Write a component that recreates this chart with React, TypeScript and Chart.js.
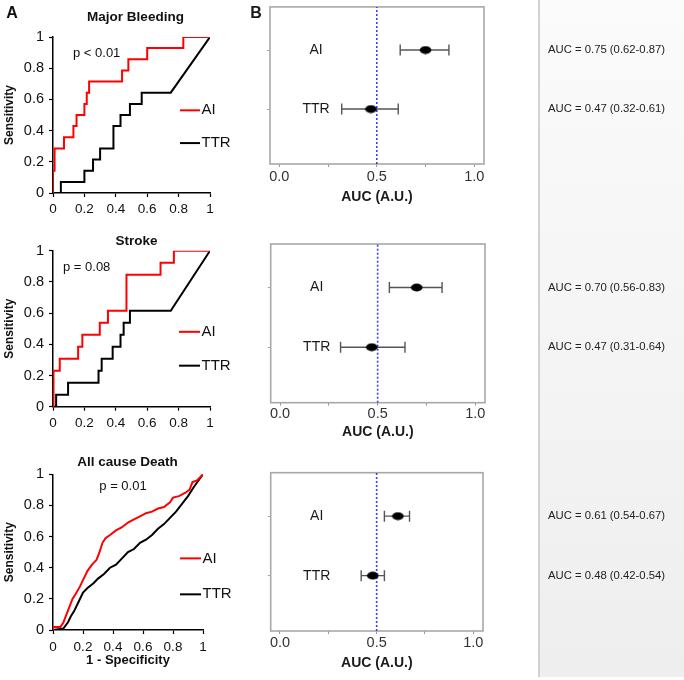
import React, { useEffect, useRef } from 'react';
import { Chart, registerables } from 'chart.js';
Chart.register(...registerables);

const FONT = "'Liberation Sans', Arial, Helvetica, sans-serif";

// ---------- ROC curve data (1 - specificity, sensitivity) ----------
const bleedAiX = [0, 0, 0.01, 0.01, 0.07, 0.07, 0.13, 0.13, 0.15, 0.15, 0.2, 0.2, 0.215, 0.215, 0.23, 0.23, 0.44, 0.44, 0.48, 0.48, 0.6, 0.6, 0.83, 0.83, 1];
const bleedAiY = [0, 0.143, 0.143, 0.286, 0.286, 0.357, 0.357, 0.429, 0.429, 0.5, 0.5, 0.571, 0.571, 0.643, 0.643, 0.714, 0.714, 0.786, 0.786, 0.857, 0.857, 0.929, 0.929, 1, 1];
const bleedTtrX = [0, 0.05, 0.05, 0.2, 0.2, 0.255, 0.255, 0.3, 0.3, 0.385, 0.385, 0.43, 0.43, 0.49, 0.49, 0.565, 0.565, 0.75, 1];
const bleedTtrY = [0, 0, 0.071, 0.071, 0.143, 0.143, 0.214, 0.214, 0.286, 0.286, 0.429, 0.429, 0.5, 0.5, 0.571, 0.571, 0.643, 0.643, 1];

const strokeAiX = [0, 0, 0.005, 0.005, 0.043, 0.043, 0.16, 0.16, 0.187, 0.187, 0.298, 0.298, 0.35, 0.35, 0.468, 0.468, 0.685, 0.685, 0.77, 0.77, 1];
const strokeAiY = [0, 0.154, 0.154, 0.231, 0.231, 0.308, 0.308, 0.385, 0.385, 0.462, 0.462, 0.538, 0.538, 0.615, 0.615, 0.846, 0.846, 0.923, 0.923, 1, 1];
const strokeTtrX = [0, 0.02, 0.02, 0.096, 0.096, 0.29, 0.29, 0.31, 0.31, 0.38, 0.38, 0.43, 0.43, 0.45, 0.45, 0.49, 0.49, 0.75, 1];
const strokeTtrY = [0, 0, 0.077, 0.077, 0.154, 0.154, 0.231, 0.231, 0.308, 0.308, 0.385, 0.385, 0.462, 0.462, 0.538, 0.538, 0.615, 0.615, 1];

const deathAiX = [0, 0, 0.05, 0.07, 0.09, 0.11, 0.13, 0.15, 0.18, 0.2, 0.23, 0.26, 0.29, 0.31, 0.33, 0.35, 0.38, 0.42, 0.46, 0.5, 0.54, 0.58, 0.62, 0.66, 0.7, 0.74, 0.78, 0.8, 0.84, 0.88, 0.91, 0.93, 0.96, 1];
const deathAiY = [0, 0.02, 0.02, 0.05, 0.1, 0.15, 0.2, 0.23, 0.28, 0.32, 0.38, 0.42, 0.45, 0.5, 0.56, 0.59, 0.61, 0.64, 0.66, 0.69, 0.71, 0.73, 0.75, 0.76, 0.78, 0.79, 0.82, 0.85, 0.86, 0.88, 0.9, 0.95, 0.96, 1];
const deathTtrX = [0, 0.07, 0.1, 0.12, 0.14, 0.17, 0.2, 0.23, 0.27, 0.3, 0.34, 0.38, 0.42, 0.46, 0.5, 0.54, 0.58, 0.62, 0.66, 0.7, 0.74, 0.78, 0.82, 0.86, 0.9, 0.94, 0.97, 1];
const deathTtrY = [0, 0.01, 0.05, 0.09, 0.12, 0.18, 0.24, 0.27, 0.3, 0.33, 0.36, 0.4, 0.42, 0.46, 0.5, 0.52, 0.56, 0.58, 0.61, 0.65, 0.68, 0.72, 0.76, 0.81, 0.86, 0.92, 0.96, 1];

const rocTitles = ['Major Bleeding', 'Stroke', 'All cause Death'];
const pValues = ['p < 0.01', 'p = 0.08', 'p = 0.01'];
const seriesNames = ['AI', 'TTR'];
const rocTicks = [0, 0.2, 0.4, 0.6, 0.8, 1];

// ---------- AUC forest data ----------
const rowValues = [2, 1];
const bleedAuc = [0.75, 0.47];
const bleedLo = [0.62, 0.32];
const bleedHi = [0.87, 0.61];
const strokeAuc = [0.7, 0.47];
const strokeLo = [0.56, 0.31];
const strokeHi = [0.83, 0.64];
const deathAuc = [0.61, 0.48];
const deathLo = [0.54, 0.42];
const deathHi = [0.67, 0.54];
const aucTicks = [0, 0.25, 0.5, 0.75, 1];
const aucTickLabels = ['0.0', '', '0.5', '', '1.0'];
const refLine = 0.5;

const pts = (xs: number[], ys: number[]) => xs.map((x, i) => ({ x, y: ys[i] }));

function rocConfig(s: any) {
  const annot = {
    id: 'rocAnnot',
    afterDraw(chart: any) {
      const { ctx, scales } = chart;
      ctx.save();
      ctx.fillStyle = '#111';
      ctx.textBaseline = 'middle';
      if (s.letter) {
        ctx.font = `bold 16px ${FONT}`;
        ctx.textAlign = 'center';
        ctx.fillText(s.letter, 12, 14);
      }
      ctx.font = `bold 13.5px ${FONT}`;
      ctx.textAlign = 'center';
      ctx.fillText(s.title, s.titleX, s.titleY);
      ctx.font = `13px ${FONT}`;
      ctx.textAlign = 'left';
      ctx.fillText(s.pText, s.pX, s.pY);
      const colors = ['#ff0000', '#000000'];
      seriesNames.forEach((name, i) => {
        const y = scales.y.getPixelForValue(s.legendY[i]);
        ctx.strokeStyle = colors[i];
        ctx.lineWidth = 2;
        ctx.beginPath();
        ctx.moveTo(s.legX0, y);
        ctx.lineTo(s.legX1, y);
        ctx.stroke();
        ctx.font = `15px ${FONT}`;
        ctx.fillStyle = '#111';
        ctx.fillText(name, s.legX1 + 1.5, y);
      });
      ctx.restore();
    },
  };
  return {
    type: 'scatter',
    data: {
      datasets: [
        { label: 'AI', data: pts(s.aiX, s.aiY), showLine: true, borderColor: '#ff0000', borderWidth: 2, pointRadius: 0, tension: 0 },
        { label: 'TTR', data: pts(s.ttrX, s.ttrY), showLine: true, borderColor: '#000000', borderWidth: 2, pointRadius: 0, tension: 0 },
      ],
    },
    options: {
      responsive: false,
      animation: false,
      events: [],
      layout: { padding: s.pad },
      plugins: { legend: { display: false }, tooltip: { enabled: false }, title: { display: false } },
      scales: {
        x: {
          type: 'linear', min: 0, max: 1,
          afterBuildTicks: (sc: any) => { sc.ticks = rocTicks.map((v) => ({ value: v })); },
          afterFit: (sc: any) => { sc.height = s.xH; },
          ticks: { font: { family: FONT, size: 13.5 }, color: '#111', padding: s.xTickPad, maxRotation: 0, autoSkip: false, callback: (v: number) => String(v) },
          grid: { display: true, drawOnChartArea: false, drawTicks: true, tickLength: 4, tickColor: '#000', tickWidth: 1.2 },
          border: { display: true, color: '#000', width: 1.5 },
          title: s.xTitle
            ? { display: true, text: s.xTitle, color: '#111', font: { family: FONT, size: 13, weight: 'bold' }, padding: { top: 0, bottom: s.xTitlePad } }
            : { display: false },
        },
        y: {
          type: 'linear', min: 0, max: 1,
          afterBuildTicks: (sc: any) => { sc.ticks = rocTicks.map((v) => ({ value: v })); },
          afterFit: (sc: any) => { sc.width = 53; },
          ticks: { font: { family: FONT, size: 14.5 }, color: '#111', padding: 5, autoSkip: false, callback: (v: number) => String(v) },
          grid: { display: true, drawOnChartArea: false, drawTicks: true, tickLength: 4, tickColor: '#000', tickWidth: 1.2 },
          border: { display: true, color: '#000', width: 1.5 },
          title: { display: true, text: 'Sensitivity', color: '#111', font: { family: FONT, size: 12, weight: 'bold' }, padding: { top: 2, bottom: 0 } },
        },
      },
    },
    plugins: [annot],
  };
}

function makeEllipse() {
  const c = document.createElement('canvas');
  c.width = 13;
  c.height = 9;
  const g = c.getContext('2d')!;
  g.fillStyle = '#000';
  g.beginPath();
  g.ellipse(6.5, 4.5, 5.8, 3.9, 0, 0, Math.PI * 2);
  g.fill();
  return c;
}

const Y_MIN = 0.07;
const Y_MAX = 2.73;

function forestConfig(s: any) {
  const ellipse = makeEllipse();
  const annot = {
    id: 'forestAnnot',
    beforeDatasetsDraw(chart: any) {
      const { ctx, chartArea: ca } = chart;
      ctx.save();
      ctx.strokeStyle = '#a8a8a8';
      ctx.lineWidth = 1.6;
      ctx.strokeRect(ca.left, ca.top, ca.right - ca.left, ca.bottom - ca.top);
      ctx.restore();
    },
    afterDraw(chart: any) {
      const { ctx, chartArea: ca, scales } = chart;
      ctx.save();
      ctx.fillStyle = '#1a1a1a';
      ctx.textBaseline = 'middle';
      if (s.letter) {
        ctx.font = `bold 16px ${FONT}`;
        ctx.textAlign = 'center';
        ctx.fillText(s.letter, 26, 14);
      }
      seriesNames.forEach((name, i) => {
        const y = scales.y.getPixelForValue(rowValues[i]);
        ctx.font = `14px ${FONT}`;
        ctx.textAlign = 'center';
        ctx.fillStyle = '#1a1a1a';
        ctx.fillText(name, ca.left + 46, y);
        ctx.font = `11.3px ${FONT}`;
        ctx.textAlign = 'left';
        ctx.fillStyle = '#222';
        const txt = `AUC = ${s.auc[i].toFixed(2)} (${s.lo[i].toFixed(2)}-${s.hi[i].toFixed(2)})`;
        ctx.fillText(txt, 318, y);
      });
      ctx.restore();
    },
  };
  const bars = rowValues.map((r, i) => ({
    label: seriesNames[i] + ' CI',
    data: [{ x: s.lo[i], y: r }, { x: s.hi[i], y: r }],
    showLine: true,
    borderColor: '#555',
    borderWidth: 1.4,
    pointStyle: 'line',
    pointRotation: 90,
    pointRadius: 5.5,
    pointBorderColor: '#555',
    pointBorderWidth: 1.4,
  }));
  return {
    type: 'scatter',
    data: {
      datasets: [
        { label: 'AUC', data: s.auc.map((v: number, i: number) => ({ x: v, y: rowValues[i] })), pointStyle: ellipse, pointRadius: 5 },
        ...bars,
        {
          label: 'ref', data: [{ x: refLine, y: Y_MIN }, { x: refLine, y: Y_MAX }], showLine: true,
          borderColor: '#3c3cff', borderWidth: 1.6, borderDash: [2, 2], pointRadius: 0,
        },
      ],
    },
    options: {
      responsive: false,
      animation: false,
      events: [],
      layout: { padding: s.pad },
      plugins: { legend: { display: false }, tooltip: { enabled: false }, title: { display: false } },
      scales: {
        x: {
          type: 'linear', min: -0.048, max: 1.05,
          afterBuildTicks: (sc: any) => { sc.ticks = aucTicks.map((v) => ({ value: v })); },
          afterFit: (sc: any) => { sc.height = s.xH; },
          ticks: { font: { family: FONT, size: 14.5 }, color: '#333', padding: s.xTickPad, maxRotation: 0, autoSkip: false, callback: (_v: number, i: number) => aucTickLabels[i] },
          grid: { display: true, drawOnChartArea: false, drawTicks: true, tickLength: 3, tickColor: '#999', tickWidth: 1 },
          border: { display: false },
          title: { display: true, text: 'AUC (A.U.)', color: '#1a1a1a', font: { family: FONT, size: 14, weight: 'bold' }, padding: { top: 0, bottom: s.xTitlePad } },
        },
        y: {
          type: 'linear', min: Y_MIN, max: Y_MAX,
          afterBuildTicks: (sc: any) => { sc.ticks = rowValues.map((v) => ({ value: v })); },
          afterFit: (sc: any) => { sc.width = 5; },
          ticks: { display: false },
          grid: { display: true, drawOnChartArea: false, drawTicks: true, tickLength: 3, tickColor: '#aaa', tickWidth: 1 },
          border: { display: false },
        },
      },
    },
    plugins: [annot],
  };
}

function ChartBox({ left, top, width, height, make }: any) {
  const ref = useRef<HTMLCanvasElement>(null);
  useEffect(() => {
    const chart = new Chart(ref.current as HTMLCanvasElement, make());
    return () => chart.destroy();
  }, []);
  return <canvas ref={ref} width={width} height={height} style={{ position: 'absolute', left, top, width, height }} />;
}

export default function App() {
  return (
    <div style={{ position: 'absolute', left: 0, top: 0, width: 684, height: 680, background: '#fff', overflow: 'hidden' }}>
      <div style={{ position: 'absolute', left: 538, top: 0, width: 146, height: 677, boxSizing: 'border-box', borderLeft: '2px solid #d2d2d2', background: 'linear-gradient(#fbfbfb, #eeeeee)' }} />
      <ChartBox left={0} top={0} width={240} height={225} make={() => rocConfig({
        aiX: bleedAiX, aiY: bleedAiY, ttrX: bleedTtrX, ttrY: bleedTtrY,
        title: rocTitles[0], pText: pValues[0], letter: 'A',
        titleX: 135.5, titleY: 17, pX: 73, pY: 53, legX0: 180, legX1: 200, legendY: [0.53, 0.32],
        pad: { left: 0, top: 37, right: 30, bottom: 7 }, xH: 25, xTickPad: 4,
      })} />
      <ChartBox left={0} top={225} width={240} height={210} make={() => rocConfig({
        aiX: strokeAiX, aiY: strokeAiY, ttrX: strokeTtrX, ttrY: strokeTtrY,
        title: rocTitles[1], pText: pValues[1],
        titleX: 136.5, titleY: 16.7, pX: 63, pY: 42.7, legX0: 179, legX1: 200, legendY: [0.48, 0.263],
        pad: { left: 0, top: 25.7, right: 30, bottom: 3.3 }, xH: 25, xTickPad: 4,
      })} />
      <ChartBox left={0} top={435} width={240} height={245} make={() => rocConfig({
        aiX: deathAiX, aiY: deathAiY, ttrX: deathTtrX, ttrY: deathTtrY,
        title: rocTitles[2], pText: pValues[2],
        titleX: 127.5, titleY: 27.3, pX: 99.3, pY: 51, legX0: 180, legX1: 201, legendY: [0.46, 0.229],
        pad: { left: 0, top: 39.3, right: 37, bottom: 12 }, xH: 38, xTickPad: 5,
        xTitle: '1 - Specificity', xTitlePad: 0.2,
      })} />
      <ChartBox left={230} top={0} width={454} height={220} make={() => forestConfig({
        auc: bleedAuc, lo: bleedLo, hi: bleedHi, letter: 'B',
        pad: { left: 35, top: 5, right: 200, bottom: 11 }, xH: 45, xTickPad: 1.2, xTitlePad: 3.6,
      })} />
      <ChartBox left={230} top={220} width={454} height={225} make={() => forestConfig({
        auc: strokeAuc, lo: strokeLo, hi: strokeHi,
        pad: { left: 35.7, top: 24, right: 199, bottom: 2.3 }, xH: 40, xTickPad: 0, xTitlePad: 2.3,
      })} />
      <ChartBox left={230} top={445} width={454} height={235} make={() => forestConfig({
        auc: deathAuc, lo: deathLo, hi: deathHi,
        pad: { left: 35.7, top: 27.7, right: 201, bottom: 7 }, xH: 42, xTickPad: 0, xTitlePad: 1.6,
      })} />
    </div>
  );
}
